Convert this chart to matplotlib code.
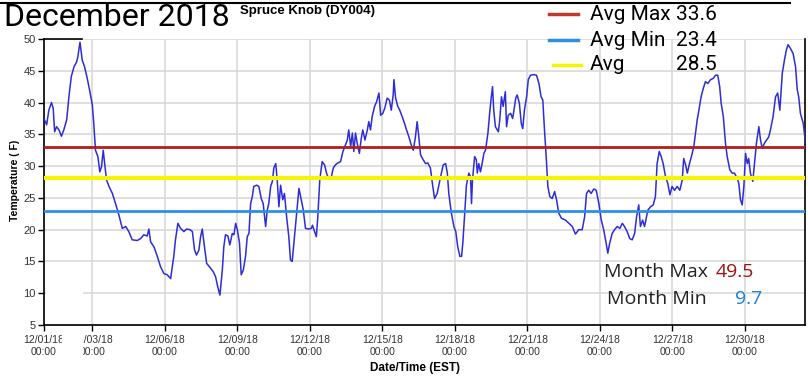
import matplotlib
matplotlib.use('Agg')
import matplotlib.pyplot as plt
from matplotlib.lines import Line2D
from matplotlib.patches import Rectangle

# days since 12/01/18 00:00 and temperature (F)
days = [
    0.02, 0.11, 0.20, 0.31, 0.38, 0.44, 0.52, 0.62, 0.72, 0.82,
    0.94, 1.03, 1.13, 1.24, 1.35, 1.40, 1.49, 1.58, 1.68, 1.79,
    1.90, 2.00, 2.06, 2.13, 2.23, 2.31, 2.38, 2.45, 2.51, 2.59,
    2.69, 2.83, 2.96, 3.10, 3.24, 3.38, 3.51, 3.65, 3.86, 4.00,
    4.13, 4.27, 4.34, 4.41, 4.55, 4.69, 4.82, 4.96, 5.10, 5.24,
    5.37, 5.44, 5.54, 5.65, 5.79, 5.90, 6.04, 6.14, 6.23, 6.31,
    6.41, 6.48, 6.55, 6.62, 6.73, 6.86, 7.00, 7.10, 7.19, 7.28,
    7.38, 7.44, 7.51, 7.61, 7.69, 7.79, 7.86, 7.93, 8.00, 8.09,
    8.16, 8.25, 8.34, 8.41, 8.48, 8.55, 8.62, 8.68, 8.80, 8.89,
    8.99, 9.07, 9.17, 9.24, 9.30, 9.38, 9.45, 9.51, 9.59, 9.65,
    9.72, 9.79, 9.88, 9.95, 10.04, 10.13, 10.20, 10.27, 10.34, 10.44,
    10.55, 10.73, 10.82, 10.96, 11.06, 11.11, 11.17, 11.27, 11.33, 11.41,
    11.51, 11.61, 11.69, 11.79, 11.89, 11.97, 12.06, 12.16, 12.27, 12.37,
    12.45, 12.55, 12.61, 12.69, 12.76, 12.82, 12.89, 12.96, 13.05, 13.13,
    13.19, 13.28, 13.38, 13.44, 13.51, 13.58, 13.68, 13.76, 13.86, 13.93,
    14.02, 14.10, 14.20, 14.29, 14.37, 14.45, 14.48, 14.55, 14.64, 14.72,
    14.82, 14.92, 15.00, 15.10, 15.20, 15.28, 15.37, 15.44, 15.51, 15.58,
    15.69, 15.79, 15.88, 15.99, 16.07, 16.16, 16.27, 16.41, 16.52, 16.62,
    16.69, 16.75, 16.85, 16.96, 17.04, 17.12, 17.21, 17.28, 17.33, 17.40,
    17.48, 17.58, 17.65, 17.69, 17.73, 17.82, 17.89, 17.93, 17.99, 18.06,
    18.13, 18.20, 18.27, 18.37, 18.44, 18.51, 18.56, 18.61, 18.68, 18.80,
    18.86, 18.93, 19.00, 19.09, 19.14, 19.21, 19.31, 19.39, 19.44, 19.52,
    19.58, 19.67, 19.75, 19.81, 19.88, 19.97, 20.04, 20.13, 20.27, 20.38,
    20.48, 20.57, 20.64, 20.71, 20.78, 20.85, 20.93, 21.03, 21.13, 21.21,
    21.30, 21.41, 21.58, 21.72, 21.86, 21.99, 22.13, 22.27, 22.37, 22.45,
    22.54, 22.64, 22.75, 22.85, 22.96, 23.06, 23.16, 23.26, 23.33, 23.41,
    23.51, 23.61, 23.72, 23.83, 23.93, 24.02, 24.13, 24.24, 24.34, 24.44,
    24.52, 24.61, 24.68, 24.77, 24.85, 24.93, 24.99, 25.10, 25.21, 25.30,
    25.37, 25.46, 25.54, 25.62, 25.72, 25.81, 25.90, 25.99, 26.09, 26.20,
    26.31, 26.41, 26.47, 26.55, 26.62, 26.71, 26.79, 26.89, 26.96, 27.03,
    27.10, 27.19, 27.28, 27.37, 27.47, 27.58, 27.69, 27.79, 27.88, 27.96,
    28.02, 28.11, 28.20, 28.27, 28.38, 28.48, 28.57, 28.68, 28.75, 28.82,
    28.89, 28.96, 29.03, 29.10, 29.16, 29.23, 29.33, 29.40, 29.48, 29.58,
    29.65, 29.72, 29.81, 29.90, 29.99, 30.06, 30.17, 30.27, 30.36, 30.45,
    30.55, 30.64, 30.72, 30.79, 30.89, 31.00, 31.10, 31.17, 31.23, 31.30,
    31.42, 31.51,
]
temps = [
    37.3, 36.5, 38.8, 40.0, 39.1, 35.4, 36.2, 35.7, 34.7, 35.7,
    37.3, 40.9, 44.1, 45.6, 46.4, 47.2, 49.5, 46.7, 45.6, 43.8,
    41.7, 39.6, 36.7, 32.5, 31.5, 29.1, 29.9, 32.5, 30.4, 27.8,
    26.8, 25.7, 24.1, 22.3, 20.2, 20.5, 19.7, 18.4, 18.3, 18.6,
    19.2, 19.0, 20.1, 18.1, 17.3, 15.8, 14.2, 13.1, 12.9, 12.3,
    15.8, 18.4, 21.0, 20.2, 19.7, 20.1, 20.0, 19.7, 16.8, 16.0,
    16.8, 18.9, 20.1, 17.9, 14.7, 14.1, 13.4, 12.6, 11.0, 9.7,
    13.7, 17.3, 19.2, 19.0, 17.6, 19.4, 19.2, 21.0, 20.0, 17.9,
    12.9, 13.7, 15.8, 18.9, 19.4, 24.1, 25.2, 26.8, 27.0, 26.8,
    24.9, 24.1, 20.5, 23.1, 24.1, 26.8, 27.6, 29.7, 30.4, 27.8,
    23.6, 27.0, 24.7, 25.7, 22.0, 18.9, 15.2, 15.0, 17.9, 22.0,
    26.5, 23.1, 20.2, 20.1, 20.2, 20.7, 20.0, 18.9, 22.0, 27.8,
    30.7, 30.2, 28.9, 27.9, 28.3, 29.7, 30.2, 30.5, 30.7, 32.3,
    33.1, 34.1, 35.7, 33.1, 35.2, 32.3, 35.2, 33.6, 32.0, 34.4,
    35.7, 34.1, 35.7, 37.0, 35.7, 37.8, 39.4, 40.1, 41.5, 38.0,
    38.3, 39.1, 40.7, 40.4, 38.8, 41.2, 43.6, 40.7, 39.4, 38.8,
    37.8, 36.7, 35.7, 34.6, 33.3, 32.5, 34.6, 37.0, 34.6, 31.8,
    31.0, 30.4, 30.5, 29.7, 27.3, 24.9, 25.7, 28.3, 30.2, 30.4,
    28.9, 25.7, 22.8, 20.5, 19.7, 17.3, 15.8, 15.8, 17.9, 22.0,
    27.0, 28.9, 28.3, 24.1, 27.8, 31.5, 31.0, 28.9, 30.4, 29.1,
    30.4, 32.0, 32.5, 35.2, 38.3, 40.9, 42.5, 38.8, 36.2, 35.4,
    37.3, 40.9, 39.4, 41.7, 36.2, 38.0, 38.3, 37.5, 38.6, 40.7,
    41.2, 39.9, 36.7, 35.9, 38.8, 40.9, 43.6, 44.3, 44.4, 44.3,
    43.0, 40.9, 40.4, 35.7, 31.5, 26.8, 25.2, 24.9, 26.0, 24.7,
    22.6, 21.8, 21.5, 21.0, 20.5, 19.3, 20.0, 20.0, 22.0, 25.7,
    26.2, 25.7, 26.4, 26.2, 24.1, 21.5, 20.0, 17.9, 16.3, 17.9,
    19.4, 20.0, 20.5, 20.2, 21.0, 20.5, 19.7, 18.6, 18.4, 19.4,
    22.0, 23.9, 20.5, 21.5, 20.5, 22.0, 23.1, 23.6, 23.9, 25.2,
    30.4, 32.3, 31.5, 30.4, 28.3, 27.3, 25.5, 26.8, 26.2, 26.8,
    26.2, 27.8, 31.2, 30.2, 28.9, 30.4, 31.5, 33.1, 35.2, 37.3,
    38.8, 40.9, 42.2, 43.3, 43.0, 43.6, 43.8, 44.3, 44.3, 42.5,
    39.9, 37.8, 33.6, 31.5, 29.4, 28.9, 28.9, 28.1, 27.3, 24.7,
    23.9, 26.8, 32.0, 30.4, 31.2, 28.9, 27.6, 30.4, 33.6, 36.2,
    34.1, 32.8, 33.6, 34.1, 34.6, 35.7, 37.8, 40.9, 41.5, 38.8,
    44.6, 46.7, 48.3, 49.1, 48.5, 47.7, 45.6, 42.0, 40.9, 38.3,
    36.7, 33.6,
]

# horizontal reference lines as drawn on the chart
ref_levels = [33.0, 22.9, 28.1]
ref_colors = ['#b01e1e', '#2f8fe8', '#f5f500']

legend_names = ['Avg Max', 'Avg Min', 'Avg']
legend_values = ['33.6', '23.4', '28.5']
month_max = '49.5'
month_min = '9.7'

tick_days = [0, 2, 5, 8, 11, 14, 17, 20, 23, 26, 29]
tick_labels = ['12/01/18', '12/03/18', '12/06/18', '12/09/18', '12/12/18',
               '12/15/18', '12/18/18', '12/21/18', '12/24/18', '12/27/18',
               '12/30/18']
y_ticks = [5, 10, 15, 20, 25, 30, 35, 40, 45, 50]

W, H = 808, 376


def fx(px):
    return px / W


def fy(py):
    return 1 - py / H


def plot_month():
    fig = plt.figure(figsize=(W / 100, H / 100), dpi=100)
    ax = fig.add_axes([fx(44), fy(325), (805 - 44) / W, (325 - 39) / H])

    ax.plot(days, temps, color='#2d2dd8', lw=1.1, zorder=3)
    for level, color in zip(ref_levels, ref_colors):
        lw = 3 if color == '#f5f500' else 2
        ax.axhline(level, color=color, lw=lw, zorder=4)

    ax.set_xlim(0, 31.49)
    ax.set_ylim(5, 50)
    ax.set_yticks(y_ticks)
    ax.set_xticks(tick_days)
    ax.set_xticklabels([t + '\n00:00' for t in tick_labels],
                       family='Liberation Sans', fontsize=7.5, color='#333333',
                       linespacing=1.3)
    ax.set_yticklabels([str(v) for v in y_ticks], family='Liberation Sans',
                       fontsize=8, color='#333333')
    ax.tick_params(direction='out', length=4, width=1, pad=2)
    ax.tick_params(axis='x', pad=3)
    ax.grid(True, color='#d9d9d9', lw=1.2)
    ax.set_axisbelow(True)
    ax.spines['top'].set_visible(False)
    for side in ['left', 'bottom', 'right']:
        ax.spines[side].set_color('black')
        ax.spines[side].set_linewidth(1.2)

    # bits of the screenshot frame
    fig.add_artist(Line2D([fx(44), fx(82)], [fy(39), fy(39)], color='black',
                          lw=1.2))
    fig.add_artist(Line2D([fx(0), fx(790)], [fy(2.5), fy(2.5)], color='black',
                          lw=1.5))
    fig.add_artist(Rectangle((fx(62), fy(362)), 20 / W, 35 / H,
                             color='white', zorder=10))
    fig.add_artist(Rectangle((fx(46), fy(296)), 36 / W, 5 / H,
                             color='white', zorder=10))

    fig.text(fx(4), fy(17), 'December 2018', family='Roboto', fontsize=23,
             va='center', ha='left')
    fig.text(fx(308), fy(11), 'Spruce Knob (DY004)', family='Liberation Sans',
             fontweight='bold', fontsize=9.5, ha='center', va='center')
    fig.text(fx(15), fy(180), 'Temperature ( F)', family='Liberation Sans',
             fontweight='bold', fontsize=7.5, rotation=90, ha='center',
             va='center')
    fig.text(fx(415), fy(368), 'Date/Time (EST)', family='Liberation Sans',
             fontweight='bold', fontsize=8.5, ha='center', va='center')

    # legend overlay
    rows = [14, 40, 65]
    handle_colors = ['#c0392b', '#2f8fe8', '#f5f500']
    for i, name in enumerate(legend_names):
        y = fy(rows[i])
        if i < 2:
            fig.add_artist(Line2D([fx(549), fx(562)], [y, y],
                                  color=handle_colors[i], lw=2.5))
            fig.add_artist(Line2D([fx(565), fx(578)], [y, y],
                                  color=handle_colors[i], lw=2.5))
        else:
            fig.add_artist(Line2D([fx(553), fx(581)], [y, y],
                                  color=handle_colors[i], lw=2.5))
        fig.text(fx(590), y, name, family='Roboto', fontsize=15,
                 va='center', ha='left')
        fig.text(fx(717), y, legend_values[i], family='Roboto', fontsize=15,
                 va='center', ha='right')

    fig.text(fx(604), fy(272), 'Month Max', family='Open Sans', fontsize=14,
             va='center', ha='left', color='#222222')
    fig.text(fx(716), fy(272), month_max, family='Open Sans', fontsize=14,
             va='center', ha='left', color='#a01010')
    fig.text(fx(607), fy(299), 'Month Min', family='Open Sans', fontsize=14,
             va='center', ha='left', color='#222222')
    fig.text(fx(762), fy(299), month_min, family='Open Sans', fontsize=14,
             va='center', ha='right', color='#1a7fe0')

    fig.savefig('out.png', dpi=100)


def main():
    plot_month()


if __name__ == '__main__':
    main()
